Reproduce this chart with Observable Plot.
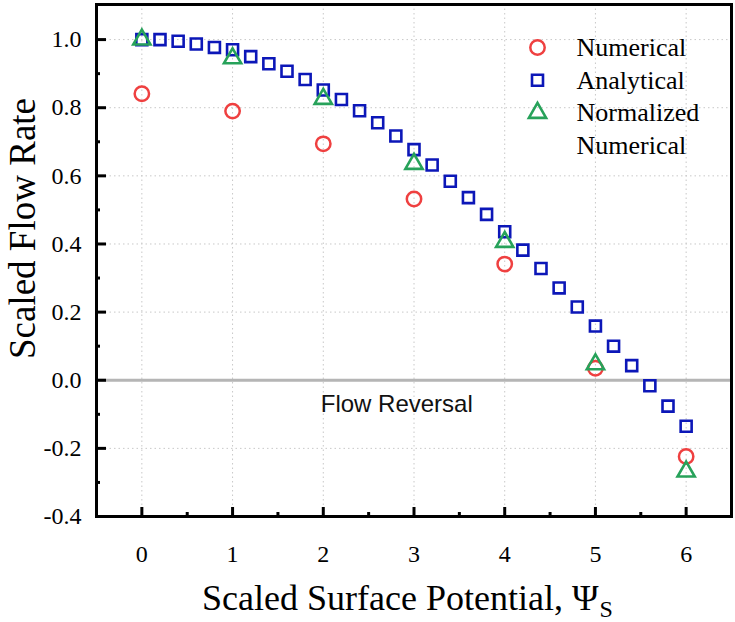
<!DOCTYPE html>
<html>
<head>
<meta charset="utf-8">
<script src="https://cdn.jsdelivr.net/npm/d3@7"></script>
<script src="https://cdn.jsdelivr.net/npm/@observablehq/plot@0.6"></script>
<style>
  body { margin: 0; background: #fff; }
</style>
</head>
<body>
<div id="chart"></div>
<script>
// scaled surface potential where the numerical runs were made
const psiNumerical = [0, 1, 2, 3, 4, 5, 6]
const numerical = [0.841, 0.79, 0.694, 0.532, 0.341, 0.035, -0.224]
const normalized = [1.0, 0.945, 0.826, 0.635, 0.406, 0.047, -0.268]

// analytical curve, every 0.2
const psiAnalytical = [0, 0.2, 0.4, 0.6, 0.8, 1.0, 1.2, 1.4, 1.6, 1.8, 2.0, 2.2, 2.4, 2.6, 2.8, 3.0,
  3.2, 3.4, 3.6, 3.8, 4.0, 4.2, 4.4, 4.6, 4.8, 5.0, 5.2, 5.4, 5.6, 5.8, 6.0]
const analytical = [1.0, 1.0, 0.995, 0.987, 0.977, 0.97, 0.95, 0.929, 0.907, 0.883, 0.852, 0.824,
  0.791, 0.756, 0.717, 0.677, 0.632, 0.584, 0.536, 0.487, 0.436, 0.382, 0.328, 0.271, 0.215, 0.159,
  0.1, 0.043, -0.016, -0.076, -0.135]

const xTicks = [0, 1, 2, 3, 4, 5, 6]
const xMinor = [0.5, 1.5, 2.5, 3.5, 4.5, 5.5]
const yTicks = [-0.4, -0.2, 0.0, 0.2, 0.4, 0.6, 0.8, 1.0]
const yMinor = [-0.3, -0.1, 0.1, 0.3, 0.5, 0.7, 0.9]

const legendNames = ["Numerical", "Analytical", "Normalized", "Numerical"]

const red = "#ef4040", blue = "#0c17b8", green = "#27a25a"

const num = psiNumerical.map((x, i) => ({x, y: numerical[i]}))
const norm = psiNumerical.map((x, i) => ({x, y: normalized[i]}))
const ana = psiAnalytical.map((x, i) => ({x, y: analytical[i]}))

const W = 735, H = 622, mL = 96, mR = 4, mT = 4, mB = 106
const innerW = W - mL - mR, innerH = H - mT - mB

const circle = {symbol: "circle", stroke: red, r: 7.2, strokeWidth: 2.5}
const square = {symbol: "square", stroke: blue, r: 6.2, strokeWidth: 2.6}
const triangle = {symbol: "triangle", stroke: green, r: 6.4, strokeWidth: 2.6}
const legendSymbols = [circle, square, triangle]

const chart = Plot.plot({
  width: W,
  height: H,
  marginLeft: mL,
  marginRight: mR,
  marginTop: mT,
  marginBottom: mB,
  style: {fontFamily: "Liberation Serif", background: "white", color: "black"},
  x: {domain: [-0.5, 6.5]},
  y: {domain: [-0.4, 1.103]},
  marks: [
    // dotted grid
    Plot.ruleX(xTicks, {stroke: "#c8c8c8", strokeDasharray: "1.5,3"}),
    Plot.ruleY(yTicks, {stroke: "#c8c8c8", strokeDasharray: "1.5,3"}),
    // flow reversal line
    Plot.ruleY([0], {stroke: "#b5b5b5", strokeWidth: 3}),
    Plot.text(["Flow Reversal"], {x: 2.81, y: -0.072, fontFamily: "Liberation Sans", fontSize: 24, fill: "#111"}),

    // data
    Plot.dot(ana, {x: "x", y: "y", ...square}),
    Plot.dot(num, {x: "x", y: "y", ...circle}),
    Plot.dot(norm, {x: "x", y: "y", ...triangle}),

    // inward ticks
    Plot.ruleX(xTicks, {insetTop: innerH - 9, strokeWidth: 3}),
    Plot.ruleX(xMinor, {insetTop: innerH - 4, strokeWidth: 3}),
    Plot.ruleY(yTicks, {insetRight: innerW - 10, strokeWidth: 3}),
    Plot.ruleY(yMinor, {insetRight: innerW - 4, strokeWidth: 3}),
    Plot.frame({stroke: "black", strokeWidth: 3}),

    // tick labels
    Plot.axisX(xTicks, {tickSize: 0, tickPadding: 28, fontSize: 24, tickFormat: d => d, label: null}),
    Plot.axisY(yTicks, {tickSize: 0, tickPadding: 15, fontSize: 24, tickFormat: d => d.toFixed(1), label: null}),

    // axis titles
    Plot.text(["Scaled Flow Rate"], {frameAnchor: "left", dx: -73, dy: -32, rotate: -90, textAnchor: "middle", lineAnchor: "middle", fontSize: 37}),
    Plot.text(["Scaled Surface Potential, Ψ"], {frameAnchor: "bottom-left", dx: 502, dy: 82, textAnchor: "end", lineAnchor: "middle", fontSize: 36}),
    Plot.text(["S"], {frameAnchor: "bottom-left", dx: 503, dy: 93, textAnchor: "start", lineAnchor: "middle", fontSize: 24}),

    // legend
    ...legendSymbols.map((s, i) => Plot.dot([s], {frameAnchor: "top-left", dx: 441, dy: 43 + i * 32.7, ...s})),
    ...legendNames.map((name, i) => Plot.text([name], {frameAnchor: "top-left", dx: 480, dy: 43 + i * 32.7, textAnchor: "start", lineAnchor: "middle", fontSize: 26}))
  ]
})

d3.select("#chart").append(() => chart)
</script>
</body>
</html>
